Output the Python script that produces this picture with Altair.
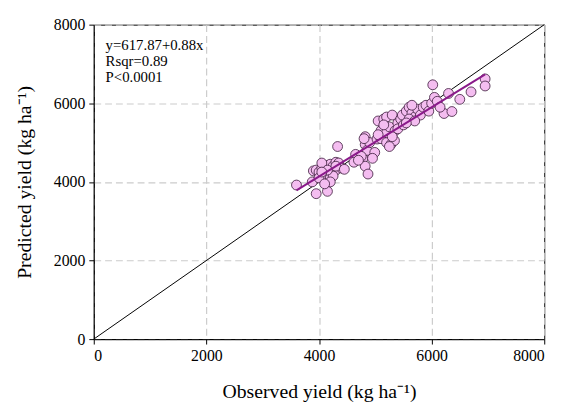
import altair as alt
import pandas as pd

obs = [3600, 3880, 3950, 4150, 3900, 3950, 4000, 4050, 4100, 4150, 4200, 4250, 4300, 4350,
       4100, 4200, 4000, 4300, 4250, 4400, 4050, 4150, 4300, 4450, 4330, 4050, 4200, 4100,
       4650, 4620, 4780, 4820, 4870, 4820, 4820, 4850, 4990, 4750, 4900, 4800, 4950, 4700,
       5030, 5100, 5200, 5280, 5340, 5050, 5150, 5200, 5300, 5100, 5200, 5250, 5350, 5400,
       5150, 5050, 5300, 5250, 5400, 5450, 5500, 5480,
       5550, 5600, 5650, 5700, 5750, 5800, 5850, 5900, 5600, 5700, 5950, 6000, 5550, 5650,
       6020, 6050, 6100, 6220, 6360, 6500, 6700, 6950, 6950, 6300, 6150]
pred = [3920, 4000, 3700, 3760, 4280, 4300, 4250, 4350, 4200, 4420, 4450, 4400, 4500, 4480,
        4050, 4100, 4100, 4300, 4150, 4350, 4480, 4300, 4400, 4320, 4900, 4250, 4000, 3950,
        4700, 4500, 4600, 4400, 4200, 5150, 4950, 4800, 4750, 4650, 5000, 5100, 4600, 4550,
        5090, 5100, 5000, 4960, 5050, 5550, 5600, 5650, 5700, 5300, 5250, 5400, 5300, 5500,
        5450, 5200, 5150, 4900, 5350, 5600, 5450, 5700,
        5800, 5900, 5750, 5650, 5850, 5700, 5900, 5950, 5600, 5550, 5800, 6000, 5500, 5950,
        6470, 6150, 6050, 5740, 5790, 6100, 6290, 6620, 6440, 6250, 5900]

intercept = 617.87
slope = 0.88
fit_x = [3600, 6950]
fit_y = [intercept + slope * v for v in fit_x]
one_x = [0, 8000]
one_y = [0, 8000]
notes = ["y=617.87+0.88x", "Rsqr=0.89", "P<0.0001"]
note_x = [210, 210, 210]
note_y = [7470, 7070, 6670]

pts = pd.DataFrame({"obs": obs, "pred": pred})
fit = pd.DataFrame({"obs": fit_x, "pred": fit_y})
one = pd.DataFrame({"obs": one_x, "pred": one_y})
nt = pd.DataFrame({"obs": note_x, "pred": note_y, "t": notes})

font = "Liberation Serif"
xs = alt.Scale(domain=[0, 8000], nice=False)
ys = alt.Scale(domain=[0, 8000], nice=False)
common = dict(values=[0, 2000, 4000, 6000, 8000], format="d",
              grid=True, gridDash=[7, 4], gridColor="#cccccc", gridWidth=1.2,
              domainColor="black", tickColor="black", tickSize=5,
              labelFont=font, labelFontSize=16, labelColor="black",
              titleFont=font, titleFontSize=20, titleFontWeight="normal", titleColor="black")
xax = alt.Axis(title="Observed yield (kg ha⁻¹)", labelPadding=4, titlePadding=18, **common)
yax = alt.Axis(title="Predicted yield (kg ha⁻¹)", labelPadding=4, titlePadding=19, **common)

base_x = alt.X("obs:Q", scale=xs, axis=xax)
base_y = alt.Y("pred:Q", scale=ys, axis=yax)

one_line = alt.Chart(one).mark_line(color="black", strokeWidth=1).encode(x=base_x, y=base_y)
points = alt.Chart(pts).mark_point(filled=True, fill="#f4bdf0", stroke="#3a1a3a",
                                    strokeWidth=0.8, size=100, opacity=1, shape="circle").encode(
    x="obs:Q", y="pred:Q")
fit_line = alt.Chart(fit).mark_line(color="#8a1a8a", strokeWidth=2).encode(x="obs:Q", y="pred:Q")
text = alt.Chart(nt).mark_text(align="left", baseline="middle", font=font, fontSize=15,
                               color="black").encode(x="obs:Q", y="pred:Q", text="t:N")

chart = alt.layer(one_line, points, fit_line, text).properties(
    width=457, height=319,
    autosize=alt.AutoSizeParams(type="none"),
    padding={"left": 87, "top": 14, "right": 18, "bottom": 69},
    background="white",
).configure_view(stroke="black", strokeWidth=1)

chart.save("out.html", embed_options={"renderer": "svg", "actions": False})
